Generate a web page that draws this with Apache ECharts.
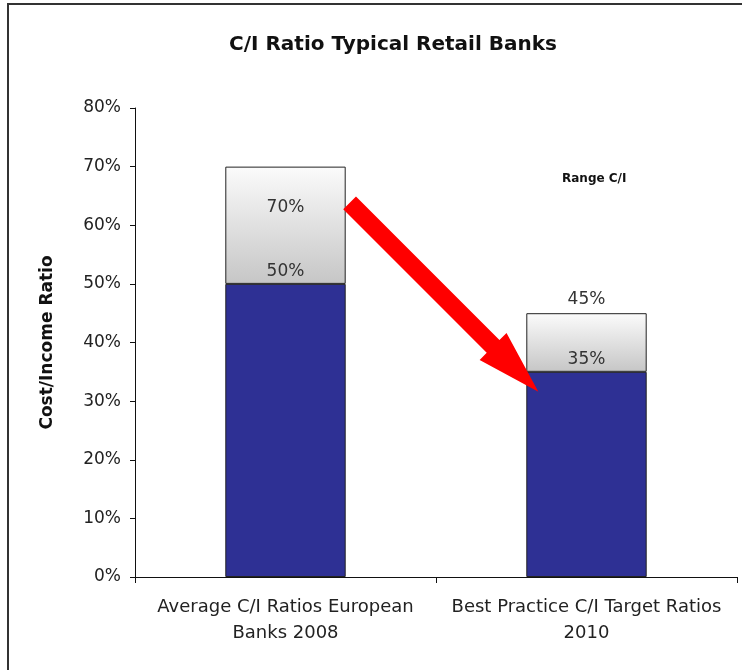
<!DOCTYPE html>
<html><head><meta charset="utf-8">
<script src="https://cdn.jsdelivr.net/npm/echarts@6/dist/echarts.min.js"></script>
<style>html,body{margin:0;padding:0;background:#fff}#c{width:742px;height:670px}</style>
</head><body><div id="c"></div>
<script>
const categories = ['Average C/I Ratios European\nBanks 2008', 'Best Practice C/I Target Ratios\n2010'];
const baseValues = [50, 35];      // lower end of range (blue)
const topValues = [70, 45];       // upper end of range
const yTicks = [0, 10, 20, 30, 40, 50, 60, 70, 80];

const FONT = '"DejaVu Sans", "Liberation Sans", Arial, sans-serif';
const rangeValues = topValues.map((t, i) => t - baseValues[i]);

const chart = echarts.init(document.getElementById('c'));
const option = {
  animation: false,
  backgroundColor: '#fff',
  title: {
    text: 'C/I Ratio Typical Retail Banks',
    left: 388, top: 30, textAlign: 'center',
    textStyle: { fontFamily: FONT, fontSize: 20, fontWeight: 'bold', color: '#111' }
  },
  grid: { left: 135, right: 5, top: 108, bottom: 93, containLabel: false },
  xAxis: {
    type: 'category', data: categories,
    axisLine: { lineStyle: { color: '#111', width: 1 } },
    axisTick: { show: true, alignWithLabel: false, length: 6, lineStyle: { color: '#111' } },
    axisLabel: { fontFamily: FONT, fontSize: 18, color: '#222', lineHeight: 26, margin: 17, interval: 0 }
  },
  yAxis: {
    type: 'value', min: 0, max: 80, interval: 10,
    name: 'Cost/Income Ratio', nameLocation: 'middle', nameGap: 79, nameRotate: 90,
    nameTextStyle: { fontFamily: FONT, fontSize: 17, fontWeight: 'bold', color: '#111' },
    axisLine: { show: true, lineStyle: { color: '#111', width: 1 } },
    axisTick: { show: true, length: 5, lineStyle: { color: '#111' } },
    splitLine: { show: false },
    axisLabel: { fontFamily: FONT, fontSize: 17, color: '#222', margin: 14,
      formatter: v => yTicks.includes(v) ? v + '%' : '' }
  },
  series: [
    {
      name: 'Base', type: 'bar', stack: 'r', barWidth: '40%', z: 3,
      data: baseValues.map(v => ({ value: v })),
      itemStyle: { color: '#2E3094', borderColor: '#222', borderWidth: 1 },
      label: { show: true, position: 'top', distance: 4,
        fontFamily: FONT, fontSize: 17, color: '#333',
        formatter: p => baseValues[p.dataIndex] + '%' }
    },
    {
      name: 'Range', type: 'bar', stack: 'r', barWidth: '40%', z: 2,
      data: rangeValues.map((v, i) => ({
        value: v,
        label: i === 0
          ? { show: true, position: 'insideTop', distance: 32 }
          : { show: true, position: 'top', distance: 5 }
      })),
      itemStyle: {
        borderColor: '#222', borderWidth: 1,
        color: new echarts.graphic.LinearGradient(0, 0, 0, 1, [
          { offset: 0, color: '#fbfbfb' },
          { offset: 1, color: '#c6c6c6' }
        ])
      },
      label: { fontFamily: FONT, fontSize: 17, color: '#333',
        formatter: p => topValues[p.dataIndex] + '%' }
    }
  ],
  graphic: [
    { type: 'rect', shape: { x: 8, y: 4, width: 900, height: 900 },
      style: { fill: 'none', stroke: '#333', lineWidth: 2 }, z: 100 },
    { type: 'text', left: 562, top: 173,
      style: { text: 'Range C/I', fontFamily: FONT, fontSize: 12, fontWeight: 'bold', fill: '#111' } }
  ]
};
chart.setOption(option);

// Red arrow annotation placed relative to the axes
const p0 = chart.convertToPixel({ xAxisIndex: 0, yAxisIndex: 0 }, [0, 63.8]);
const p1 = chart.convertToPixel({ xAxisIndex: 0, yAxisIndex: 0 }, [1, 31.6]);
const band = (p1[0] - p0[0]);
const tail = [p0[0] + band * 0.213, p0[1]];
const tip = [p1[0] - band * 0.16, p1[1]];
const dx = tip[0] - tail[0], dy = tip[1] - tail[1];
const L = Math.sqrt(dx * dx + dy * dy);
const ux = dx / L, uy = dy / L, nx = -uy, ny = ux;
const sw = 9, hw = 19, hl = 64;
const hb = [tip[0] - ux * hl, tip[1] - uy * hl];
const pts = [
  [tail[0] + nx * sw, tail[1] + ny * sw],
  [hb[0] + nx * sw, hb[1] + ny * sw],
  [hb[0] + nx * hw, hb[1] + ny * hw],
  tip,
  [hb[0] - nx * hw, hb[1] - ny * hw],
  [hb[0] - nx * sw, hb[1] - ny * sw],
  [tail[0] - nx * sw, tail[1] - ny * sw]
];
chart.setOption({
  graphic: option.graphic.concat([
    { type: 'polygon', shape: { points: pts }, style: { fill: '#FF0000' }, z: 50 }
  ])
});
</script></body></html>
